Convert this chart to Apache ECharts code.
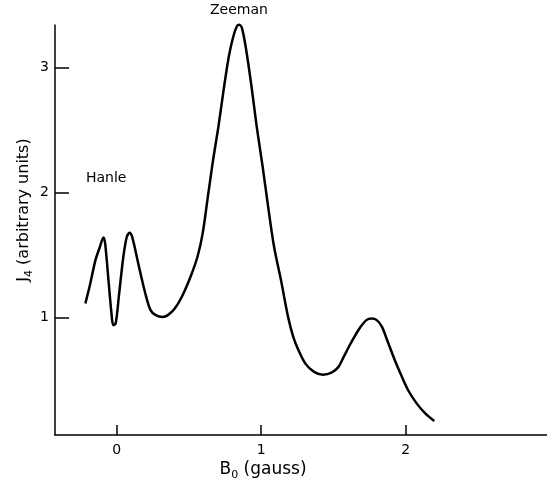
<!DOCTYPE html>
<html>
<head>
<meta charset="utf-8">
<script src="https://cdn.jsdelivr.net/npm/echarts@6/dist/echarts.min.js"></script>
<style>
  html, body { margin: 0; padding: 0; background: #fff; }
  #chart { width: 547px; height: 496px; }
</style>
</head>
<body>
<div id="chart"></div>
<script>
// Field strength B0 (gauss) and signal J4 (arbitrary units)
const bField = [
  -0.217, -0.188, -0.147, -0.116, -0.092, -0.080, -0.055, -0.036, -0.024, -0.007,
  0.017, 0.046, 0.070, 0.089, 0.108, 0.149, 0.198, 0.234, 0.270, 0.318,
  0.354, 0.402, 0.451, 0.511, 0.559, 0.595, 0.631, 0.667, 0.704, 0.740,
  0.776, 0.807, 0.831, 0.848, 0.867, 0.896, 0.933, 0.969, 1.010, 1.048,
  1.089, 1.137, 1.186, 1.222, 1.258, 1.306, 1.366, 1.427, 1.487, 1.535,
  1.571, 1.619, 1.680, 1.728, 1.764, 1.800, 1.836, 1.872, 1.920, 1.969,
  2.017, 2.077, 2.137, 2.198
];
const intensity = [
  1.112, 1.246, 1.459, 1.566, 1.641, 1.593, 1.272, 1.032, 0.939, 0.952,
  1.192, 1.486, 1.646, 1.678, 1.641, 1.433, 1.192, 1.059, 1.019, 1.005,
  1.019, 1.072, 1.166, 1.326, 1.486, 1.673, 1.967, 2.260, 2.527, 2.821,
  3.088, 3.248, 3.328, 3.342, 3.315, 3.142, 2.848, 2.527, 2.207, 1.887,
  1.566, 1.299, 1.005, 0.845, 0.738, 0.631, 0.565, 0.543, 0.559, 0.605,
  0.685, 0.792, 0.912, 0.979, 0.992, 0.979, 0.925, 0.818, 0.672, 0.538,
  0.418, 0.311, 0.231, 0.172
];
const xTicks = [0, 1, 2];
const yTicks = [1, 2, 3];

const FONT = 'DejaVu Sans';
const chart = echarts.init(document.getElementById('chart'));

chart.setOption({
  backgroundColor: '#ffffff',
  animation: false,
  grid: { left: 55, right: 0, top: 25, bottom: 61 },
  xAxis: {
    type: 'value',
    min: -0.427,
    max: 2.978,
    axisLine: { show: true, onZero: false, lineStyle: { color: '#000', width: 1.5 } },
    axisTick: { show: true, inside: true, length: 10, customValues: xTicks,
                lineStyle: { color: '#000', width: 1.5 } },
    axisLabel: { customValues: xTicks, margin: 8, color: '#000',
                 fontFamily: FONT, fontSize: 14 },
    splitLine: { show: false }
  },
  yAxis: {
    type: 'value',
    min: 0.06,
    max: 3.34,
    axisLine: { show: true, onZero: false, lineStyle: { color: '#000', width: 1.5 } },
    axisTick: { show: true, inside: true, length: 14, customValues: yTicks,
                lineStyle: { color: '#000', width: 1.5 } },
    axisLabel: { customValues: yTicks, margin: 6, color: '#000',
                 fontFamily: FONT, fontSize: 14 },
    splitLine: { show: false }
  },
  graphic: [
    {
      type: 'text', left: 210, top: 3,
      style: { text: 'Zeeman', fill: '#000', font: '14px "DejaVu Sans"' }
    },
    {
      type: 'text', left: 86, top: 171,
      style: { text: 'Hanle', fill: '#000', font: '14px "DejaVu Sans"' }
    },
    {
      type: 'text', x: 263, y: 470,
      style: {
        text: '{b|B}{s|0}{t| (gauss)}',
        align: 'center', verticalAlign: 'middle',
        rich: {
          b: { fontFamily: FONT, fontSize: 17, fill: '#000' },
          s: { fontFamily: FONT, fontSize: 11, fill: '#000', padding: [11, 0, 0, 0] },
          t: { fontFamily: FONT, fontSize: 17, fill: '#000' }
        }
      }
    },
    {
      type: 'text', x: 24, y: 210, rotation: Math.PI / 2,
      style: {
        text: '{b|J}{s|4}{t| (arbitrary units)}',
        align: 'center', verticalAlign: 'middle',
        rich: {
          b: { fontFamily: FONT, fontSize: 16, fill: '#000' },
          s: { fontFamily: FONT, fontSize: 11, fill: '#000', padding: [11, 0, 0, 0] },
          t: { fontFamily: FONT, fontSize: 16, fill: '#000' }
        }
      }
    }
  ],
  series: [{
    type: 'line',
    data: bField.map((b, i) => [b, intensity[i]]),
    smooth: 0.3,
    showSymbol: false,
    lineStyle: { color: '#000', width: 2.5 },
    clip: false
  }]
});
</script>
</body>
</html>
